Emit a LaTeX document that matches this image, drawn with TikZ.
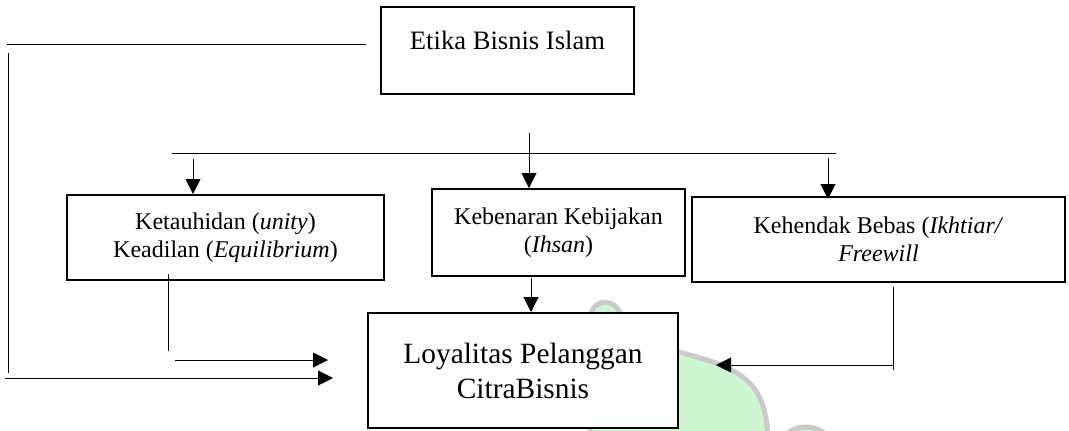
\documentclass[tikz,border=0pt]{standalone}
\usepackage{fontspec}
\setmainfont{Liberation Serif}
\usetikzlibrary{arrows.meta}
\definecolor{blobgreen}{RGB}{205,245,210}
\definecolor{blobgray}{RGB}{202,202,202}
\begin{document}
\begin{tikzpicture}[x=1pt,y=-1pt,
  box/.style={draw, line width=2pt, inner sep=0pt, align=center, fill=white},
  conn/.style={line width=1pt},
  arr/.style={line width=1pt,-{Triangle[length=15pt,width=15pt]}},
  small/.style={font=\fontsize{24}{28}\selectfont}]
\useasboundingbox (0,0) rectangle (1069,431);
% background watermark blob
\begin{scope}
\clip (0,0) rectangle (1069,431);
\filldraw[fill=blobgreen, draw=blobgray, line width=5pt]
  (590,445) -- (590,318) .. controls (592,298) and (616,296) .. (622,318)
  .. controls (628,338) and (650,344) .. (690,355)
  .. controls (745,370) and (768,385) .. (768,445) -- cycle;
\filldraw[fill=blobgreen, draw=blobgray, line width=5pt] (806,458) circle (31);
\end{scope}
% boxes
\node[box, font=\fontsize{26.6}{32}\selectfont, minimum width=253pt,
      text height=42pt, text depth=45pt, anchor=base] (etika) at (507.5,49) {Etika Bisnis Islam};
\node[box, small, minimum width=317pt, minimum height=85pt] (tauhid) at (225.5,237.5)
  {Ketauhidan (\textit{unity})\\Keadilan (\textit{Equilibrium})};
\node[box, small, minimum width=253pt, minimum height=87pt] (keb) at (558.5,232.5)
  {Kebenaran Kebijakan\\(\textit{Ihsan})};
\node[box, small, minimum width=373pt, minimum height=85pt] (keh) at (878.5,239.5)
  {Kehendak Bebas (\textit{Ikhtiar/}\\\textit{Freewill}};
\node[box, font=\fontsize{29.4}{35}\selectfont, minimum width=310pt, minimum height=115pt] (loy) at (523,370.5)
  {Loyalitas Pelanggan\\CitraBisnis};
% named points
\coordinate (e1) at (366,44);
\coordinate (e2) at (7,44);
\coordinate (v1) at (8,53);
\coordinate (v2) at (8,373);
\coordinate (h1) at (5,378);
\coordinate (h2) at (333,378);
\coordinate (t1) at (168,274);
\coordinate (t2) at (168,351);
\coordinate (t3) at (175,360);
\coordinate (t4) at (328,360);
\coordinate (b1) at (172,153);
\coordinate (b2) at (836,153);
\coordinate (m1) at (529,133);
\coordinate (l1) at (193,159);
\coordinate (r1) at (828,158);
\coordinate (kl) at (531,278);
\coordinate (k1) at (893,287);
\coordinate (k2) at (893,370);
\coordinate (k3) at (893,365);
% connectors
\draw[conn] (e1) -- (e2);
\draw[conn] (v1) -- (v2);
\draw[arr] (h1) -- (h2);
\draw[conn] (t1) -- (t2);
\draw[arr] (t3) -- (t4);
\draw[conn] (b1) -- (b2);
\draw[arr] (m1) -- (m1 |- keb.north);
\draw[arr] (l1) -- (l1 |- tauhid.north);
\draw[arr] (r1) -- ([yshift=-3pt]r1 |- keh.north);
\draw[arr] (kl) -- (kl |- loy.north);
\draw[conn] (k1) -- (k2);
\draw[arr] (k3) -- (k3 -| 716,0);
\end{tikzpicture}
\end{document}
